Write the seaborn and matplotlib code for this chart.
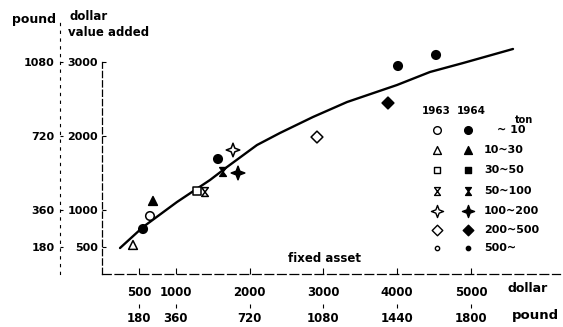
import matplotlib
matplotlib.use("Agg")
import matplotlib.pyplot as plt
from matplotlib.path import Path
import pandas as pd
import seaborn as sns

# Fitted trend of value added against fixed asset (both in dollars)
trend_asset = [244, 556, 1016, 1463, 1694, 2100, 2412, 2859, 3320, 3997, 4444, 4892, 5569]
trend_value = [486, 770, 1108, 1405, 1581, 1878, 2041, 2257, 2459, 2689, 2865, 2986, 3176]

# Individual observations (dollars), with size class (ton) and survey year
firm_asset = [556, 650, 691, 420, 1572, 1775, 1640, 1843, 1287, 1396, 2913, 3875, 4011, 4526]
firm_value = [743, 919, 1122, 527, 1689, 1811, 1514, 1500, 1257, 1243, 1986, 2446, 2946, 3095]
firm_class = ["~10", "~10", "10~30", "10~30", "~10", "100~200", "50~100", "100~200",
              "30~50", "50~100", "200~500", "200~500", "~10", "~10"]
firm_year = ["1964", "1963", "1964", "1963", "1964", "1963", "1964", "1964",
             "1963", "1963", "1963", "1964", "1964", "1964"]

size_classes = ["~10", "10~30", "30~50", "50~100", "100~200", "200~500", "500~"]
class_labels = ["~ 10", "10~30", "30~50", "50~100", "100~200", "200~500", "500~"]
years = ["1963", "1964"]

dollar_x_ticks = [500, 1000, 2000, 3000, 4000, 5000]
pound_x_ticks = [180, 360, 720, 1080, 1440, 1800]
dollar_y_ticks = [500, 1000, 2000, 3000]
pound_y_ticks = [180, 360, 720, 1080]
POUND_PER_DOLLAR = 0.36

sns.set_theme(style="white")
plt.rcParams["font.family"] = ["DejaVu Sans"]
plt.rcParams["font.weight"] = "bold"
for key in ("text.color", "axes.labelcolor", "xtick.color", "ytick.color", "axes.edgecolor"):
    plt.rcParams[key] = "black"

# custom glyphs
star4 = Path([(0, 1), (0.27, 0.27), (1, 0), (0.27, -0.27), (0, -1), (-0.27, -0.27),
              (-1, 0), (-0.27, 0.27), (0, 1)],
             [Path.MOVETO] + [Path.LINETO] * 7 + [Path.CLOSEPOLY])
hourglass = Path([(-0.75, 1), (0.75, 1), (-0.75, -1), (0.75, -1), (-0.75, 1)],
                 [Path.MOVETO] + [Path.LINETO] * 3 + [Path.CLOSEPOLY])
marker_map = {"~10": "o", "10~30": "^", "30~50": "s", "50~100": hourglass,
              "100~200": star4, "200~500": "D", "500~": "o"}
size_map = {"~10": 38, "10~30": 40, "30~50": 28, "50~100": 40,
            "100~200": 95, "200~500": 36, "500~": 12}
year_fill = {"1963": "white", "1964": "black"}

W, H = 563, 327
fig = plt.figure(figsize=(W / 100, H / 100), dpi=100)
X0, XS = 102, 0.0738   # pixel of zero dollars, pixels per dollar
Y0, YS = 284, 0.074
left_px, right_px, top_px, bot_px = 102, 560, 20, 274
ax = fig.add_axes([left_px / W, 1 - bot_px / H, (right_px - left_px) / W, (bot_px - top_px) / H])
ax.set_xlim(0, (right_px - X0) / XS)
ax.set_ylim((Y0 - bot_px) / YS, (Y0 - top_px) / YS)

sns.lineplot(x=trend_asset, y=trend_value, color="black", linewidth=1.7, ax=ax, sort=True)

df = pd.DataFrame({"asset": firm_asset, "value": firm_value,
                   "cls": firm_class, "year": firm_year})
sns.scatterplot(data=df, x="asset", y="value", hue="year", palette=year_fill,
                style="cls", markers=marker_map, size="cls", sizes=size_map,
                edgecolor="black", linewidth=1.1, legend=False, ax=ax, zorder=3)

# axes styling
for s in ("top", "right"):
    ax.spines[s].set_visible(False)
ax.spines["left"].set_linestyle((0, (5, 2.5)))
ax.spines["left"].set_linewidth(0.9)
ax.spines["left"].set_bounds(ax.get_ylim()[0], 3000)
ax.spines["bottom"].set_linestyle((0, (7, 3)))
ax.spines["bottom"].set_linewidth(0.9)
for s in ("left", "bottom"):
    ax.spines[s].set_color("black")

ax.set_xticks(dollar_x_ticks)
ax.set_xticklabels([str(t) for t in dollar_x_ticks])
ax.set_yticks(dollar_y_ticks)
ax.set_yticklabels([str(t) for t in dollar_y_ticks])
ax.tick_params(axis="x", direction="in", length=4, width=0.8, pad=9,
               labelsize=8.5, colors="black", bottom=True)
ax.tick_params(axis="y", direction="in", length=3, width=0.8, pad=3,
               labelsize=8, colors="black", left=True)
ax.set_xlabel("")
ax.set_ylabel("")

ax_w_px = right_px - left_px
ax_h_px = bot_px - top_px
to_pound = (lambda d: d * POUND_PER_DOLLAR, lambda p: p / POUND_PER_DOLLAR)

sec_y = ax.secondary_yaxis((60 - left_px) / ax_w_px, functions=to_pound)
sec_y.set_yticks(pound_y_ticks)
sec_y.set_yticklabels([str(t) for t in pound_y_ticks])
sec_y.spines["left"].set_linestyle((0, (2, 5)))
sec_y.spines["left"].set_linewidth(0.8)
sec_y.spines["left"].set_color("black")
sec_y.tick_params(direction="in", length=2, width=0.8, pad=4, labelsize=8, colors="black")

sec_x = ax.secondary_xaxis((bot_px - 308) / ax_h_px, functions=to_pound)
sec_x.set_xticks(pound_x_ticks)
sec_x.set_xticklabels([str(t) for t in pound_x_ticks])
sec_x.spines["bottom"].set_visible(False)
sec_x.tick_params(direction="in", length=3, width=0.8, pad=3, labelsize=8.5, colors="black")

def fx(px):
    return px / W

def fy(py):
    return 1 - py / H

# axis captions
fig.text(fx(12), fy(19), "pound", ha="left", va="center", fontsize=9, color="black")
fig.text(fx(70), fy(16), "dollar", ha="left", va="center", fontsize=8.5, color="black")
fig.text(fx(68), fy(32), "value added", ha="left", va="center", fontsize=8.5, color="black")
fig.text(fx(325), fy(259), "fixed asset", ha="center", va="center", fontsize=8.5, color="black")
fig.text(fx(508), fy(288), "dollar", ha="left", va="center", fontsize=9, color="black")
fig.text(fx(512), fy(316), "pound", ha="left", va="center", fontsize=9.5, color="black")

# key: year columns, size classes down the side
fig.text(fx(436), fy(111), years[0], ha="center", va="center", fontsize=7.5, color="black")
fig.text(fx(471), fy(111), years[1], ha="center", va="center", fontsize=7.5, color="black")
fig.text(fx(524), fy(120), "ton", ha="center", va="center", fontsize=7, color="black")
row_py = [130, 150, 170, 191, 211, 230, 248]
for cls, lab, py in zip(size_classes, class_labels, row_py):
    for yr, px in zip(years, (437, 468)):
        ax.scatter([fx(px)], [fy(py)], transform=fig.transFigure, clip_on=False,
                   marker=marker_map[cls], s=size_map[cls] * 0.8,
                   facecolor=year_fill[yr], edgecolor="black", linewidth=1.0, zorder=4)
    fig.text(fx(497 if cls == "~10" else 484), fy(py), lab, ha="left", va="center",
             fontsize=8, color="black")

fig.savefig("out.png", dpi=100)
